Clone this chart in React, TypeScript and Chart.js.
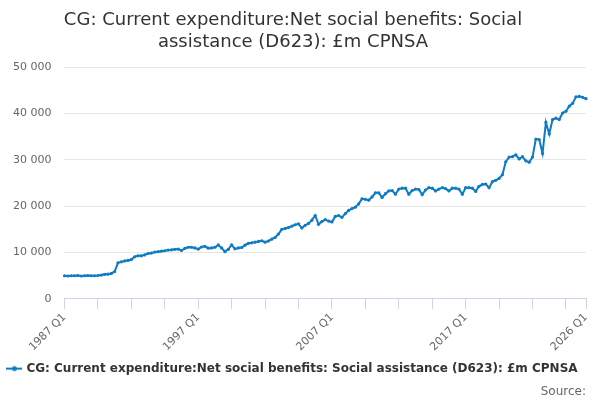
import { useEffect, useRef } from 'react';
import { Chart, registerables } from 'chart.js';

Chart.register(...registerables);

const TITLE = ['CG: Current expenditure:Net social benefits: Social', 'assistance (D623): £m CPNSA'];
const SERIES_NAME = 'CG: Current expenditure:Net social benefits: Social assistance (D623): £m CPNSA';
const LINE_COLOR = '#0f7bc4';

const firstYear = 1987;
const lastYear = 2026;

// quarterly values, 1987 Q1 .. 2026 Q1
const values = [
  5000, 4950, 5000, 5000, 5050, 4950, 5000, 5050, 5000, 5000,
  5050, 5150, 5300, 5350, 5500, 5900, 7800, 8000, 8200, 8300,
  8500, 9100, 9300, 9300, 9500, 9800, 9900, 10100, 10200, 10300,
  10400, 10550, 10600, 10700, 10750, 10450, 10900, 11150, 11150, 11000,
  10750, 11200, 11350, 10950, 11000, 11150, 11650, 11000, 10200, 10700,
  11650, 10800, 11000, 11100, 11600, 12000, 12100, 12250, 12400, 12550,
  12250, 12500, 12900, 13250, 14000, 15000, 15200, 15400, 15700, 16000,
  16200, 15300, 15900, 16300, 17000, 18000, 16100, 16700, 17100, 16800,
  16600, 17800, 18000, 17600, 18400, 19100, 19500, 19800, 20500, 21600,
  21500, 21300, 22000, 22900, 22900, 21900, 22700, 23300, 23400, 22600,
  23700, 23900, 23900, 22600, 23400, 23700, 23600, 22500, 23500, 24000,
  23900, 23300, 23700, 24000, 23800, 23300, 23900, 23900, 23700, 22600,
  24000, 24000, 23900, 23200, 24300, 24700, 24800, 24000, 25300, 25600,
  26000, 26800, 29600, 30600, 30700, 31100, 30200, 30700, 29800, 29500,
  30600, 34500, 34400, 31400, 38100, 35600, 38700, 39000, 38700, 40100,
  40500, 41600, 42200, 43600, 43700, 43500, 43200,
];

const quarters: string[] = [];
for (let y = firstYear; y <= lastYear; y++) {
  for (let q = 1; q <= 4; q++) {
    if (y === lastYear && q > 1) break;
    quarters.push(`${y} Q${q}`);
  }
}

// small line-with-dot symbol for the legend
function legendSymbol() {
  const c = document.createElement('canvas');
  c.width = 16;
  c.height = 8;
  const ctx = c.getContext('2d')!;
  ctx.strokeStyle = LINE_COLOR;
  ctx.lineWidth = 2;
  ctx.beginPath();
  ctx.moveTo(0, 4);
  ctx.lineTo(16, 4);
  ctx.stroke();
  ctx.fillStyle = LINE_COLOR;
  ctx.beginPath();
  ctx.arc(8, 4, 2.5, 0, Math.PI * 2);
  ctx.fill();
  return c;
}

export default function App() {
  const canvasRef = useRef<HTMLCanvasElement>(null);

  useEffect(() => {
    if (!canvasRef.current) return;
    const last = quarters.length - 1;
    const font = 'DejaVu Sans, sans-serif';

    const chart = new Chart(canvasRef.current, {
      type: 'line',
      data: {
        labels: quarters,
        datasets: [
          {
            label: SERIES_NAME,
            data: values,
            borderColor: LINE_COLOR,
            backgroundColor: LINE_COLOR,
            borderWidth: 2,
            pointRadius: 1.6,
            pointBorderWidth: 0,
            pointStyle: 'circle',
            tension: 0,
          },
        ],
      },
      options: {
        animation: false,
        responsive: true,
        maintainAspectRatio: false,
        layout: { padding: { left: 0, right: 14, top: 4, bottom: 0 } },
        plugins: {
          title: {
            display: true,
            text: TITLE,
            color: '#333333',
            font: { family: font, size: 18, weight: 'normal' },
            padding: { top: 6, bottom: 14 },
          },
          subtitle: {
            display: true,
            position: 'bottom',
            align: 'end',
            text: 'Source:',
            color: '#666666',
            font: { family: font, size: 12, weight: 'normal' },
            padding: { top: 0, bottom: 1 },
          },
          legend: {
            position: 'bottom',
            labels: {
              usePointStyle: true,
              pointStyle: legendSymbol() as any,
              color: '#333333',
              font: { family: font, size: 12, weight: 'bold' },
              padding: 7,
            },
          },
          tooltip: { enabled: false },
        },
        scales: {
          x: {
            type: 'category',
            offset: false,
            afterBuildTicks: (scale: any) => {
              scale.ticks = scale.ticks.filter((t: any) => t.value % 10 === 0 || t.value === last);
            },
            ticks: {
              autoSkip: false,
              maxRotation: 45,
              minRotation: 45,
              padding: 2,
              color: '#666666',
              font: { family: font, size: 11 },
              callback: function (this: any, val: any) {
                const i = Number(val);
                return i % 40 === 0 || i === last ? quarters[i] : '';
              },
            },
            grid: {
              drawOnChartArea: false,
              drawTicks: true,
              tickLength: 10,
              tickColor: '#ccd6eb',
            },
            border: { display: true, color: '#ccd6eb' },
          },
          y: {
            min: 0,
            max: 50000,
            ticks: {
              stepSize: 10000,
              color: '#666666',
              font: { family: font, size: 11 },
              padding: 13,
              callback: (v: any) => Number(v).toLocaleString('en-US').replace(/,/g, ' '),
            },
            grid: { color: '#e6e6e6', drawTicks: false },
            border: { display: false },
          },
        },
      },
    });

    return () => chart.destroy();
  }, []);

  return (
    <div style={{ position: 'absolute', left: 0, top: 0, width: 600, height: 400 }}>
      <canvas ref={canvasRef} />
    </div>
  );
}
